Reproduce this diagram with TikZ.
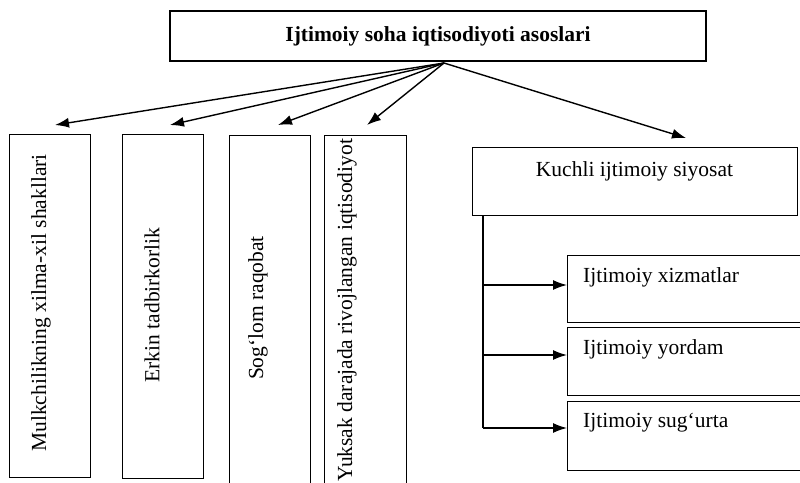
\documentclass[tikz,border=0pt]{standalone}
\usepackage{fontspec}
\setmainfont{Liberation Serif}
\usetikzlibrary{arrows.meta,calc}
\begin{document}
\begin{tikzpicture}[x=1pt,y=-1pt,
  box/.style={draw, line width=1.4pt, rectangle, inner sep=0pt, anchor=north west},
  lbl/.style={font=\fontsize{21.5}{24}\selectfont, inner sep=0pt},
  arr/.style={line width=1.4pt, -{Latex[length=14pt,width=10pt]}},
  link/.style={line width=1.4pt}
]
\useasboundingbox (0,0) rectangle (800,482);
\clip (0,0) rectangle (800,482);

% title
\node[box, line width=2pt, minimum width=536pt, minimum height=50pt,
      font=\bfseries\fontsize{21.5}{24}\selectfont] (top) at (169,10) {Ijtimoiy soha iqtisodiyoti asoslari};
\coordinate (hub) at ($(top.south)+(6,1)$);

% vertical boxes
\node[box, minimum width=81pt, minimum height=343pt] (b1) at (9,134) {};
\node[box, minimum width=81pt, minimum height=344pt] (b2) at (122,134) {};
\node[box, minimum width=81pt, minimum height=352pt] (b3) at (229,135) {};
\node[box, minimum width=82pt, minimum height=352pt] (b4) at (324,135) {};

\node[lbl, rotate=90] (t1) at (41,303) {Mulkchilikning xilma-xil shakllari};
\node[lbl, rotate=90] (t2) at (152,305) {Erkin tadbirkorlik};
\node[lbl, rotate=90] (t3) at (258,308) {Sog‘lom raqobat};
\node[lbl, rotate=90] (t4) at (347,310) {Yuksak darajada rivojlangan iqtisodiyot};

% right column
\node[box, minimum width=325pt, minimum height=68pt] (k) at (472,147) {};
\node[lbl, anchor=base] (tk) at (634.5,176) {Kuchli ijtimoiy siyosat};

\node[box, minimum width=241pt, minimum height=67pt] (sa) at (567,255) {};
\node[box, minimum width=241pt, minimum height=68pt] (sb) at (567,327) {};
\node[box, minimum width=241pt, minimum height=69pt] (sc) at (567,401) {};
\node[lbl, anchor=base west] (ta) at (583,282) {Ijtimoiy xizmatlar};
\node[lbl, anchor=base west] (tb) at (583,354) {Ijtimoiy yordam};
\node[lbl, anchor=base west] (tc) at (583,427) {Ijtimoiy sug‘urta};

% arrows from title
\coordinate (e1) at (55,125);
\coordinate (e2) at (170,125);
\coordinate (e3) at (278,125);
\coordinate (e4) at (367,125);
\coordinate (e5) at (686,138);
\foreach \e in {e1,e2,e3,e4,e5} \draw[arr] (hub) -- (\e);

% bracket to sub boxes
\coordinate (v0) at ($(k.south west)+(11,0)$);
\draw[link] (v0) -- (v0 |- 0,428);
\draw[arr] (v0 |- 0,285) -- (sa.west |- 0,285);
\draw[arr] (v0 |- 0,355) -- (sb.west |- 0,355);
\draw[arr] (v0 |- 0,428) -- (sc.west |- 0,428);
\end{tikzpicture}
\end{document}
